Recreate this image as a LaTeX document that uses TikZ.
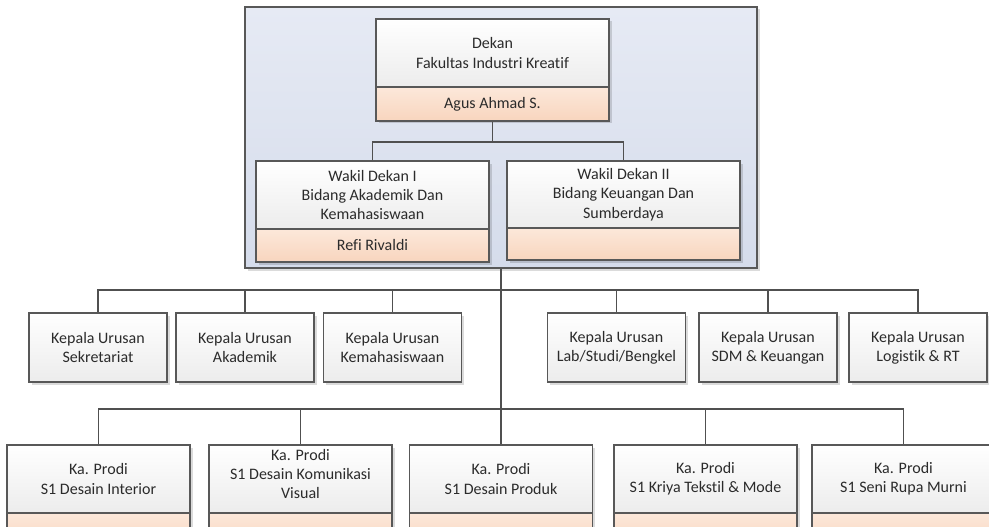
\documentclass[tikz,border=0pt]{standalone}
\usepackage{fontspec}
\setmainfont[Ligatures={NoCommon}]{Carlito}
\usetikzlibrary{shadows}
\definecolor{bordercol}{HTML}{585858}
\definecolor{boxbot}{HTML}{ECECEC}
\definecolor{orangetop}{HTML}{FCE8DA}
\definecolor{orangebot}{HTML}{F8D5BE}
\definecolor{outertop}{HTML}{E6EAF4}
\definecolor{outerbot}{HTML}{D5DCEB}
\definecolor{textcol}{HTML}{2B2B2B}
\definecolor{linecol}{HTML}{505050}
\tikzset{
  shade/.style={drop shadow={shadow xshift=2.5pt, shadow yshift=-2.5pt, fill=black, opacity=0.14}},
  txt/.style={align=center, inner sep=2pt, text=textcol, font=\fontsize{16}{19.3}\selectfont},
  unitbox/.style={txt, shade, draw=bordercol, line width=1.2pt, top color=white, bottom color=boxbot},
  namebox/.style={unitbox, top color=orangetop, bottom color=orangebot},
  outerbox/.style={shade, draw=bordercol, line width=1.2pt, top color=outertop, bottom color=outerbot},
  kbox/.style={unitbox, minimum width=138pt, minimum height=69pt},
  pbox/.style={unitbox, minimum width=183pt, minimum height=68pt},
  pname/.style={namebox, minimum width=183pt, minimum height=34pt},
  conn/.style={draw=linecol, line width=1.1pt}
}
\begin{document}
\begin{tikzpicture}[x=1pt,y=-1pt]
\useasboundingbox (0,0) rectangle (989,527);
\clip (0,0) rectangle (989,527);
\fill[white] (0,0) rectangle (989,527);

% outer panel
\node[outerbox, minimum width=512pt, minimum height=261pt] (outer) at (501,137.5) {};

% Dekan
\node[unitbox, minimum width=233pt, minimum height=68pt] (dekan) at (492.5,53) {Dekan\\Fakultas Industri Kreatif};
\node[namebox, minimum width=233pt, minimum height=34pt] (dekann) at (492.5,104) {Agus Ahmad S.};

% Wakil Dekan
\node[unitbox, minimum width=233pt, minimum height=68pt] (wd1) at (372.5,195) {Wakil Dekan I\\Bidang Akademik Dan\\Kemahasiswaan};
\node[namebox, minimum width=233pt, minimum height=33pt] (wd1n) at (372.5,245.5) {Refi Rivaldi};
\node[unitbox, minimum width=233pt, minimum height=67pt] (wd2) at (623.5,194.5) {Wakil Dekan II\\Bidang Keuangan Dan\\Sumberdaya};
\node[namebox, minimum width=233pt, minimum height=32pt] (wd2n) at (623.5,244) {};

\coordinate (jd) at (492.5,142);
\draw[conn] (dekann.south) -- (jd);
\draw[conn] (wd1.north) |- (jd) -| (wd2.north);

% Kepala Urusan
\node[kbox] (k1) at (98,347.5) {Kepala Urusan\\Sekretariat};
\node[kbox] (k2) at (245,347.5) {Kepala Urusan\\Akademik};
\node[kbox] (k3) at (392.5,347.5) {Kepala Urusan\\Kemahasiswaan};
\node[kbox] (k4) at (616.5,347.5) {Kepala Urusan\\Lab/Studi/Bengkel};
\node[kbox] (k5) at (768,347.5) {Kepala Urusan\\SDM \& Keuangan};
\node[kbox] (k6) at (918,347.5) {Kepala Urusan\\Logistik \& RT};

% Ka. Prodi
\node[pbox] (p1) at (98.5,479) {Ka. Prodi\\S1 Desain Interior};
\node[pname] (p1n) at (98.5,530) {};
\node[pbox] (p2) at (300.5,479) {};
\node[txt] (p2t) at (300.5,474) {Ka. Prodi\\S1 Desain Komunikasi\\Visual};
\node[pname] (p2n) at (300.5,530) {};
\node[pbox] (p3) at (501,479) {Ka. Prodi\\S1 Desain Produk};
\node[pname] (p3n) at (501,530) {};
\node[pbox] (p4) at (705.5,479) {Ka. Prodi\\S1 Kriya Tekstil \& Mode};
\node[pname] (p4n) at (705.5,530) {};
\node[pbox] (p5) at (903.5,479) {Ka. Prodi\\S1 Seni Rupa Murni};
\node[pname] (p5n) at (903.5,530) {};

% trunk
\draw[conn] (outer.south) -- (p3.north);

\coordinate (hk) at (501,290);
\draw[conn] (k1.north) |- (hk) -| (k6.north);
\draw[conn] (k2.north) -- (k2.north |- hk);
\draw[conn] (k3.north) -- (k3.north |- hk);
\draw[conn] (k4.north) -- (k4.north |- hk);
\draw[conn] (k5.north) -- (k5.north |- hk);

\coordinate (hp) at (501,409);
\draw[conn] (p1.north) |- (hp) -| (p5.north);
\draw[conn] (p2.north) -- (p2.north |- hp);
\draw[conn] (p4.north) -- (p4.north |- hp);
\end{tikzpicture}
\end{document}
